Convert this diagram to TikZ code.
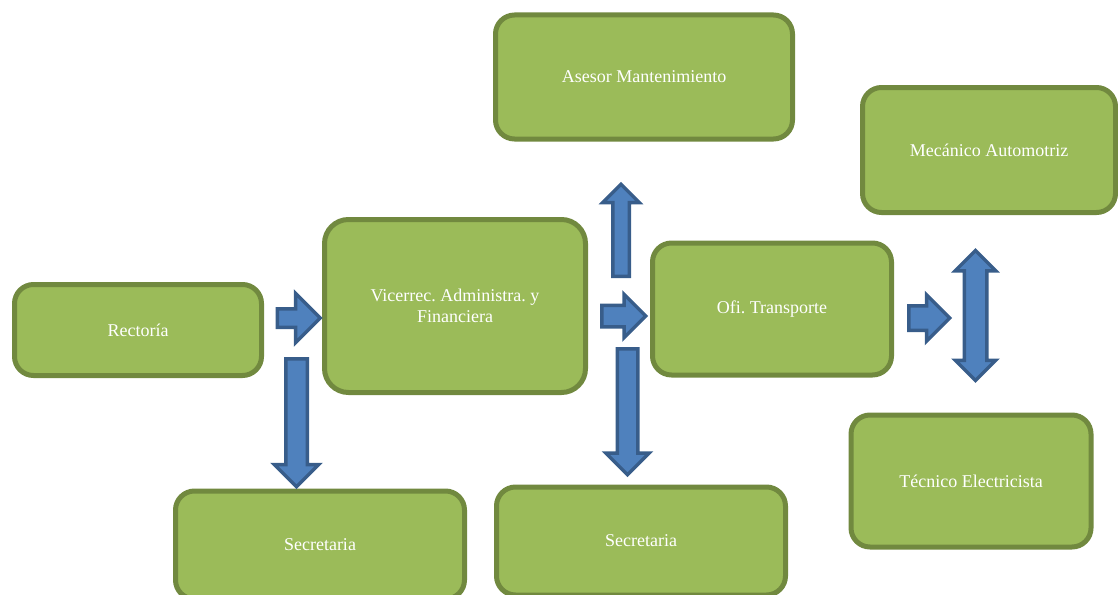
\documentclass[tikz,border=0pt]{standalone}
\usepackage{fontspec}
\setmainfont{Liberation Serif}
\usetikzlibrary{shapes.arrows}
\definecolor{boxfill}{HTML}{9BBB59}
\definecolor{boxline}{HTML}{71893F}
\definecolor{arrfill}{HTML}{4F81BD}
\definecolor{arrline}{HTML}{385D8A}

\begin{document}
\begin{tikzpicture}[x=1pt,y=-1pt,%one unit is one pixel here
 cargo/.style={draw=boxline, fill=boxfill, line width=5pt, rounded corners=19pt,
   text=white, font=\fontsize{18}{21}\selectfont\frenchspacing, align=center, inner sep=0pt},
 flecha/.style={single arrow, draw=arrline, fill=arrfill, line width=3.5pt,
   inner xsep=0pt, single arrow head indent=0pt},
 dflecha/.style={double arrow, draw=arrline, fill=arrfill, line width=3.5pt,
   inner xsep=0pt, double arrow head indent=0pt}]
\clip (0,0) rectangle (1118,594);
% cargos
\node [cargo, minimum width=247pt, minimum height=91pt] (rectoria) at (138,330) {Rectoría};
\node [cargo, minimum width=261pt, minimum height=173pt, rounded corners=24pt] (vicerrec) at (455,306) {Vicerrec. Administra. y\\Financiera};
\node [cargo, minimum width=289pt, minimum height=108pt] (secre1) at (320,545) {Secretaria};
\node [cargo, minimum width=297pt, minimum height=124pt] (asesor) at (644,77) {Asesor Mantenimiento};
\node [cargo, minimum width=289pt, minimum height=108pt] (secre2) at (641,541) {Secretaria};
\node [cargo, minimum width=239pt, minimum height=132pt] (transporte) at (772,309) {Ofi. Transporte};
\node [cargo, minimum width=253pt, minimum height=125pt] (mecanico) at (989,150) {Mecánico Automotriz};
\node [cargo, minimum width=240pt, minimum height=132pt] (tecnico) at (971,481) {Técnico Electricista};
% flechas
\node [flecha, anchor=tail, minimum height=43pt, inner ysep=7.5pt, single arrow head extend=15.5pt] (f1) at (275.5,318) {};
\node [flecha, anchor=tail, rotate=-90, minimum height=128pt, inner ysep=9pt, single arrow head extend=11.5pt] (f2) at (296.5,357) {};
\node [flecha, anchor=tail, minimum height=44pt, inner ysep=9pt, single arrow head extend=11pt] (f3) at (600,316) {};
\node [flecha, anchor=tail, rotate=90, minimum height=92pt, inner ysep=6.5pt, single arrow head extend=10pt] (f4) at (621,278) {};
\node [flecha, anchor=tail, rotate=-90, minimum height=126pt, inner ysep=8.5pt, single arrow head extend=11.5pt] (f5) at (627.5,347) {};
\node [flecha, anchor=tail, minimum height=41pt, inner ysep=10.5pt, single arrow head extend=11pt] (f6) at (907,318) {};
\node [dflecha, rotate=90, minimum height=130pt, inner ysep=9.5pt, double arrow head extend=9pt] (f7) at (975.5,315.5) {};
\end{tikzpicture}
\end{document}
